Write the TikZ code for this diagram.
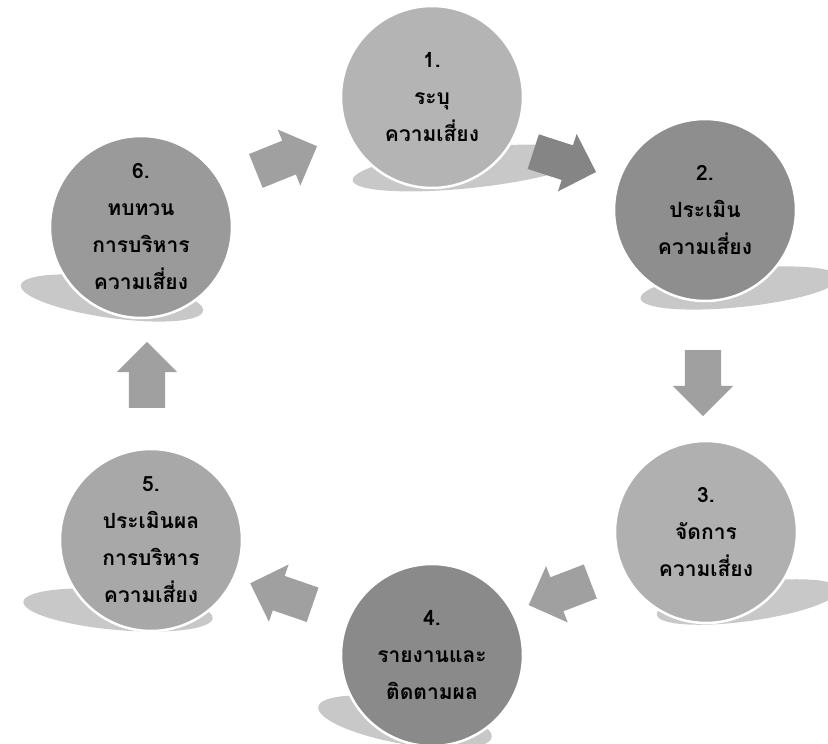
\documentclass[tikz,border=0pt]{standalone}
\usepackage{fontspec}
\newfontfamily\thaifont[Script=Thai]{Loma}
\usetikzlibrary{shapes.arrows}
\definecolor{cA}{HTML}{B4B4B4}
\definecolor{cB}{HTML}{8E8E8E}
\definecolor{cC}{HTML}{B0B0B0}
\definecolor{cD}{HTML}{8A8A8A}
\definecolor{cE}{HTML}{A8A8A8}
\definecolor{cF}{HTML}{9A9A9A}
\definecolor{shd}{HTML}{C8C8C8}
\definecolor{arr}{HTML}{A0A0A0}
\definecolor{arrdark}{HTML}{858585}
\begin{document}
\begin{tikzpicture}[x=1pt,y=-1pt,
  stage/.style={circle, minimum size=182pt, draw=white, line width=2.5pt,
    align=center, inner sep=0pt, text=black,
    font=\thaifont\bfseries\fontsize{21}{37}\selectfont},
  shadowfill/.style={fill=shd},
  blockarrow/.style={single arrow, draw=none, fill=arr, minimum height=66pt,
    inner sep=18pt, single arrow head extend=12pt, single arrow tip angle=90}
]
\useasboundingbox (0,0) rectangle (828,744);
% shadows
\fill[shadowfill, rotate around={6:(470,168)}] (470,168) ellipse [x radius=118, y radius=20];
\fill[shadowfill, rotate around={6:(740,288)}] (740,288) ellipse [x radius=100, y radius=19];
\fill[shadowfill, rotate around={-8:(112,298)}] (112,298) ellipse [x radius=92, y radius=20];
\fill[shadowfill, rotate around={8:(748,602)}] (748,602) ellipse [x radius=92, y radius=19];
\fill[shadowfill, rotate around={-10:(405,722)}] (405,722) ellipse [x radius=88, y radius=22];
\fill[shadowfill, rotate around={-5:(118,610)}] (118,610) ellipse [x radius=95, y radius=20];
% circles
\node[stage, fill=cA] (s1) at (432,97) {1.\\ระบุ\\ความเสี่ยง};
\node[stage, fill=cB] (s2) at (705,210) {2.\\ประเมิน\\ความเสี่ยง};
\node[stage, fill=cC] (s3) at (706,532) {3.\\จัดการ\\ความเสี่ยง};
\node[stage, fill=cD] (s4) at (432,655) {4.\\รายงานและ\\ติดตามผล};
\node[stage, fill=cE] (s5) at (151,540) {5.\\ประเมินผล\\การบริหาร\\ความเสี่ยง};
\node[stage, fill=cF] (s6) at (141,227) {6.\\ทบทวน\\การบริหาร\\ความเสี่ยง};
% block arrows
\node[blockarrow, rotate=22] (a61) at (278,162) {};
\node[blockarrow, fill=arrdark, rotate=-18] (a12) at (556,159) {};
\node[blockarrow, rotate=-90] (a23) at (703,374) {};
\node[blockarrow, rotate=201] (a34) at (568,590) {};
\node[blockarrow, rotate=161] (a45) at (290,597) {};
\node[blockarrow, rotate=90] (a56) at (147,384) {};
\end{tikzpicture}
\end{document}
